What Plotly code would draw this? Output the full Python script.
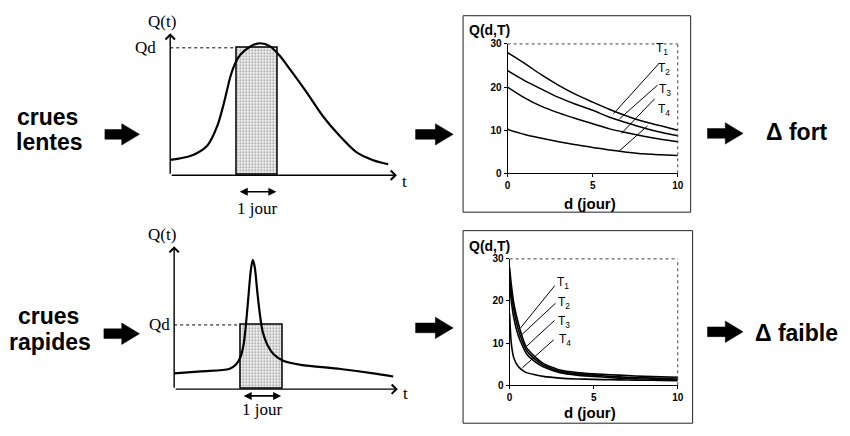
import plotly.graph_objects as go

W, H = 850, 436


def px(x):
    return x / W


def py(y):
    return 1 - y / H


# ---------------- data ----------------
# slow flood hydrograph (t in hours, Q arbitrary units, Qd = 100)
slow_t = [0, 12, 21.5, 27.2, 31, 34.9, 37.7, 40.6, 46.3, 52, 57.7, 63.4, 69.1,
          78.6, 88.2, 97.7, 107.3, 116.8, 125.9]
slow_q = [12.0, 15.3, 23.4, 38.7, 56.5, 78.1, 88.3, 94.7, 101.1, 103.6, 101.1,
          93.5, 83.2, 65.4, 46.3, 31.1, 18.3, 12.0, 8.6]
slow_start, slow_qd = 38.3, 100.0

# fast flood hydrograph
fast_t = [0, 15.3, 31.1, 34.8, 37.3, 39.2, 40.5, 41.8, 43.3, 44.4, 45.5, 47,
          48.5, 50, 52.6, 56.3, 61.9, 71.5, 93.9, 112.5, 123.7]
fast_q = [12.4, 14.0, 15.8, 19.1, 24.7, 34.9, 50.3, 70.5, 93.4, 101.5, 95.9,
          75.6, 57.8, 45.0, 34.9, 27.2, 22.1, 19.1, 15.8, 12.4, 9.9]
fast_start, fast_qd = 37.4, 50.4

DAY = 24  # hours

# QdF curves, slow floods
d_slow = [0, 1, 2, 3, 4, 5, 6, 7, 8, 9, 10]
slow_T = {
    "T1": [28, 25.5, 22.8, 20.4, 18.3, 16.5, 14.8, 13.3, 12.0, 11.0, 10.0],
    "T2": [23.8, 21.5, 19.5, 17.6, 16.0, 14.6, 13.0, 11.7, 10.5, 9.5, 8.7],
    "T3": [20.0, 17.5, 15.5, 14.0, 12.7, 11.5, 10.3, 9.4, 8.6, 7.9, 7.3],
    "T4": [10.2, 9.0, 8.1, 7.3, 6.6, 6.0, 5.4, 4.9, 4.5, 4.3, 4.1],
}

# QdF curves, fast floods
d_fast = [0, 0.1, 0.25, 0.5, 0.75, 1, 1.5, 2, 3, 4, 5, 6, 7, 8, 9, 10]
fast_T = {
    "T1": [28, 24, 19.5, 15, 11.5, 9, 6.8, 5.2, 3.6, 3.0, 2.7, 2.5, 2.3, 2.1, 2.0, 1.9],
    "T2": [26, 22, 18, 13.5, 10.5, 8.3, 6.2, 4.8, 3.3, 2.7, 2.4, 2.1, 1.9, 1.8, 1.6, 1.5],
    "T3": [24, 20, 16, 12, 9.5, 7.5, 5.6, 4.4, 3.0, 2.4, 2.1, 1.8, 1.6, 1.5, 1.4, 1.3],
    "T4": [17, 10, 6.5, 4.5, 3.6, 3.0, 2.5, 2.1, 1.7, 1.5, 1.4, 1.3, 1.25, 1.2, 1.15, 1.1],
}

# leader lines: (label x, label y, line top x, top y, line end x, end y)
slow_leaders = {
    "T1": (9.07, 28.9, 8.95, 25.7, 6.22, 13.8),
    "T2": (9.19, 24.1, 8.90, 20.75, 6.57, 12.6),
    "T3": (9.24, 19.4, 8.72, 17.6, 6.69, 9.25),
    "T4": (9.19, 14.7, 8.31, 11.3, 6.57, 5.2),
}
fast_leaders = {
    "T1": (3.18, 24.2, 2.76, 24.0, 0.65, 13.6),
    "T2": (3.24, 19.6, 2.82, 19.8, 0.59, 11.5),
    "T3": (3.24, 15.0, 2.76, 15.7, 0.94, 9.0),
    "T4": (3.29, 10.8, 2.71, 11.1, 0.76, 4.15),
}

SANS = "Liberation Sans"
SERIF = "Liberation Serif"

fig = go.Figure()

# ---------------- hydrographs ----------------
hydros = [
    ("x", "y", slow_t, slow_q, slow_start, slow_qd),
    ("x2", "y2", fast_t, fast_q, fast_start, fast_qd),
]
for xa, ya, t, q, start, qd in hydros:
    fig.add_trace(go.Bar(
        x=[start + DAY / 2], y=[qd], width=[DAY], xaxis=xa, yaxis=ya,
        marker=dict(color="#eeeeee", line=dict(color="black", width=1.5),
                    pattern=dict(shape=".", fgcolor="#333333", bgcolor="#f4f4f4",
                                 size=3, solidity=0.3)),
        hoverinfo="skip"))
    fig.add_trace(go.Scatter(
        x=[0, start], y=[qd, qd], xaxis=xa, yaxis=ya, mode="lines",
        line=dict(color="black", width=1, dash="dot"), hoverinfo="skip"))
    fig.add_trace(go.Scatter(
        x=t, y=q, xaxis=xa, yaxis=ya, mode="lines",
        line=dict(color="black", width=2.2, shape="spline", smoothing=0.8),
        hoverinfo="skip"))

# ---------------- QdF charts ----------------
for name in ["T1", "T2", "T3", "T4"]:
    fig.add_trace(go.Scatter(x=d_slow, y=slow_T[name], xaxis="x3", yaxis="y3",
                             mode="lines", line=dict(color="black", width=1.5,
                                                     shape="spline"),
                             hoverinfo="skip"))
    fig.add_trace(go.Scatter(x=d_fast, y=fast_T[name], xaxis="x4", yaxis="y4",
                             mode="lines", line=dict(color="black", width=1.6,
                                                     shape="spline", smoothing=0.6),
                             hoverinfo="skip"))

ann = []
shapes = []

# hydrograph axes (arrows)
hydro_axes = [
    ("x", "y", 130.9, 111.45),
    ("x2", "y2", 126.3, 112.2),
]
for xa, ya, xmax, ymax in hydro_axes:
    for hx, hy in [(xmax, 0), (0, ymax)]:
        ann.append(dict(x=hx, y=hy, ax=0, ay=0, xref=xa, yref=ya, axref=xa,
                        ayref=ya, text="", showarrow=True, arrowhead=4,
                        arrowsize=1.3, arrowwidth=1.4, arrowcolor="black"))

# "1 jour" double arrows and labels
for xa, ya, start, ya_arrow, ya_text in [("x", "y", slow_start, -13.0, -26.5),
                                         ("x2", "y2", fast_start, -5.3, -16.0)]:
    ann.append(dict(x=start + DAY - 1, y=ya_arrow, ax=start + 1, ay=ya_arrow,
                    xref=xa, yref=ya, axref=xa, ayref=ya, text="",
                    showarrow=True, arrowhead=2, arrowside="end+start",
                    arrowsize=1, arrowwidth=1.6, arrowcolor="black"))
    ann.append(dict(x=start + DAY / 2, y=ya_text, xref=xa, yref=ya,
                    xanchor="center", yanchor="middle",
                    text="1 jour", showarrow=False,
                    font=dict(family=SERIF, size=17, color="black")))


def ptext(text, x, y, font, xanchor="center"):
    return dict(x=px(x), y=py(y), xref="paper", yref="paper", text=text,
                showarrow=False, xanchor=xanchor, yanchor="middle", font=font)


serif = dict(family=SERIF, size=17, color="black")
# hydrograph labels
ann += [
    ptext("Q(t)", 161, 16, serif),
    ptext("Qd", 157, 43, serif, "right"),
    ptext("t", 406, 180, serif),
    ptext("Q(t)", 161, 235, serif),
    ptext("Qd", 171, 328, serif, "right"),
    ptext("t", 407, 398, serif),
]

# QdF chart labels
for xa, ya, leaders in [("x3", "y3", slow_leaders), ("x4", "y4", fast_leaders)]:
    for name, (lx, ly, x0, y0, x1, y1) in leaders.items():
        ann.append(dict(x=x1, y=y1, ax=x0, ay=y0, xref=xa, yref=ya, axref=xa,
                        ayref=ya, text="", showarrow=True, arrowhead=0,
                        arrowwidth=1, arrowcolor="black"))
        ann.append(dict(x=lx, y=ly, xref=xa, yref=ya, xanchor="center",
                        yanchor="middle",
                        text="T<sub>%s</sub>" % name[1], showarrow=False,
                        font=dict(family=SANS, size=12, color="black")))
    shapes.append(dict(type="line", xref=xa + " domain", yref=ya + " domain",
                       x0=0, y0=1, x1=1, y1=1,
                       line=dict(color="#444", width=1, dash="dot")))
    shapes.append(dict(type="line", xref=xa + " domain", yref=ya + " domain",
                       x0=1, y0=0, x1=1, y1=1,
                       line=dict(color="#444", width=1, dash="dot")))

for qy, dy in [(25, 203), (247, 418)]:
    ann.append(ptext("<b>Q(d,T)</b>", 492, qy,
                     dict(family=SANS, size=14, color="black")))
    ann.append(ptext("<b>d (jour)</b>", 593, dy,
                     dict(family=SANS, size=15, color="black")))

# frames around QdF charts
shapes.append(dict(type="rect", xref="paper", yref="paper", x0=px(465), x1=px(695),
                   y0=py(212), y1=py(10), line=dict(color="#222", width=1)))
shapes.append(dict(type="rect", xref="paper", yref="paper", x0=px(465), x1=px(697),
                   y0=py(429), y1=py(231), line=dict(color="#222", width=1)))


# block arrows
def block_arrow(x0, x1, yc, shaft=10, head=22, head_len=18):
    xs = x1 - head_len
    pts = [(x0, yc - shaft / 2), (xs, yc - shaft / 2), (xs, yc - head / 2),
           (x1, yc), (xs, yc + head / 2), (xs, yc + shaft / 2), (x0, yc + shaft / 2)]
    path = "M " + " L ".join("%.5f,%.5f" % (px(x), py(y)) for x, y in pts) + " Z"
    return dict(type="path", xref="paper", yref="paper", path=path,
                fillcolor="black", line=dict(color="black", width=0.5))


for x0, x1, yc in [(103, 138, 132), (417, 455, 132), (712, 748, 131),
                   (102, 138, 337), (417, 455, 331), (712, 748, 335)]:
    shapes.append(block_arrow(x0, x1, yc))

# big text labels
big = dict(family=SANS, size=23, color="black")
for text, x, y in [("crues", 45, 114), ("lentes", 46, 140),
                   ("crues", 46, 319), ("rapides", 48, 345),
                   ("Δ fort", 802, 130), ("Δ faible", 802, 336)]:
    ann.append(ptext("<b>%s</b>" % text, x, y, big))

tickfont = dict(family=SANS, size=10, color="black", weight="bold")
common_x = dict(range=[0, 10], showline=True, linecolor="black", linewidth=1,
                ticks="outside", ticklen=3, tickcolor="black",
                tickvals=[0, 5, 10], showgrid=False, zeroline=False,
                tickfont=tickfont, fixedrange=True)
common_y = dict(range=[0, 30], showline=True, linecolor="black", linewidth=1,
                ticks="outside", ticklen=3, tickcolor="black",
                tickvals=[0, 10, 20, 30], showgrid=False, zeroline=False,
                tickfont=tickfont, fixedrange=True)

fig.update_layout(
    width=W, height=H, margin=dict(l=0, r=0, t=0, b=0),
    paper_bgcolor="white", plot_bgcolor="rgba(0,0,0,0)",
    showlegend=False, bargap=0,
    xaxis=dict(domain=[px(120), px(420)], range=[-28, 143.43], visible=False,
               anchor="y"),
    yaxis=dict(domain=[py(214), py(10)], range=[-30.53, 125.19], visible=False,
               anchor="x"),
    xaxis2=dict(domain=[px(120), px(420)], range=[-29.6, 138.0], visible=False,
                anchor="y2"),
    yaxis2=dict(domain=[py(430), py(228)], range=[-27.5, 126.7], visible=False,
                anchor="x2"),
    xaxis3=dict(domain=[px(510), px(682)], anchor="y3", **common_x),
    yaxis3=dict(domain=[py(172), py(39)], anchor="x3", **common_y),
    xaxis4=dict(domain=[px(512), px(682)], anchor="y4", **common_x),
    yaxis4=dict(domain=[py(390), py(260)], anchor="x4", **common_y),
    annotations=ann, shapes=shapes,
)

fig.write_html("out.html")
